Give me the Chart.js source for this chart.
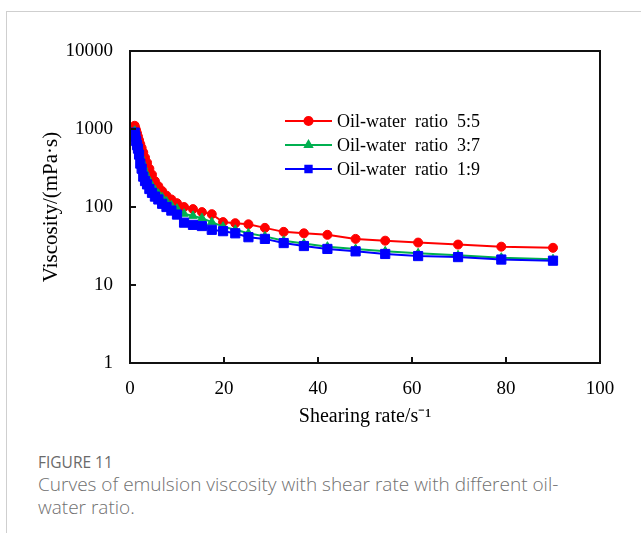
<!DOCTYPE html>
<html>
<head>
<meta charset="utf-8">
<script src="https://cdn.jsdelivr.net/npm/chart.js@4"></script>
<style>
  html, body { margin: 0; padding: 0; background: #fff; }
  body { width: 641px; height: 533px; position: relative; overflow: hidden; }
  .card { position: absolute; left: 6px; top: 11px; right: -2px; bottom: -2px; border-top: 1px solid #cfcfcf; border-left: 1px solid #cfcfcf; }
  .chart-box { position: absolute; left: 0; top: 0; width: 641px; height: 440px; }
  .fig-label { position: absolute; left: 38px; top: 451px; font-family: "Open Sans", sans-serif; font-size: 15.5px; color: #6a6a6a; }
  .fig-caption { position: absolute; left: 38px; top: 473px; width: 540px; font-family: "Open Sans", sans-serif; font-size: 19px; line-height: 23px; color: #707070; font-weight: 300; }
</style>
</head>
<body>
<div class="card"></div>
<div class="chart-box"><canvas id="viscChart"></canvas></div>
<div class="fig-label">FIGURE 11</div>
<div class="fig-caption">Curves of emulsion viscosity with shear rate with different oil-water ratio.</div>
<script>
// shear rate points (s^-1)
const shearRates = [1.0, 1.16, 1.32, 1.5, 1.7, 1.93, 2.19, 2.48, 2.82, 3.2, 3.63, 4.12, 4.68, 5.3, 6.03, 6.84, 7.76, 8.8, 10.0,
  11.5, 13.4, 15.3, 17.4, 19.8, 22.4, 25.2, 28.7, 32.7, 37, 42, 48, 54.3, 61.3, 69.8, 79, 90];

// viscosity (mPa·s)
const ratio55 = [1100, 1020, 950, 880, 800, 720, 640, 570, 500, 430, 370, 310, 260, 215, 185, 160, 140, 125, 112,
  100, 94, 86, 81, 64, 62, 60, 54, 48, 46, 44, 39, 37, 35, 33, 31, 30];
const ratio37 = [950, 860, 770, 690, 620, 540, 460, 390, 330, 285, 245, 212, 185, 165, 148, 133, 118, 105, 95,
  82, 77, 72, 64, 56, 51, 46, 42, 37, 34, 31, 29, 27, 25.5, 24, 22.4, 21.4];
const ratio19 = [900, 800, 700, 620, 560, 470, 360, 310, 245, 215, 195, 170, 152, 136, 125, 110, 100, 90, 80,
  63, 59, 57, 51, 49, 46, 41, 39, 34.5, 31.6, 29, 27, 25, 23.5, 22.8, 21.2, 20.5];

const seriesNames = ['Oil-water  ratio  5:5', 'Oil-water  ratio  3:7', 'Oil-water  ratio  1:9'];
const seriesColors = ['#ff0000', '#00b050', '#0000ff'];
const seriesMarkers = ['circle', 'triangle', 'rect'];

const xTicks = [0, 20, 40, 60, 80, 100];
const yTicks = [1, 10, 100, 1000, 10000];

const serif = "'Liberation Serif', 'Times New Roman', serif";

function toPoints(values) {
  return values.map((v, i) => ({ x: shearRates[i], y: v }));
}

// black box round the plot plus small inward ticks
const frameAndTicks = {
  id: 'frameAndTicks',
  afterDatasetsDraw(chart) {
    const { ctx, chartArea: a, scales } = chart;
    ctx.save();
    ctx.strokeStyle = '#111';
    ctx.lineWidth = 2;
    ctx.strokeRect(a.left, a.top, a.right - a.left, a.bottom - a.top);
    ctx.beginPath();
    xTicks.slice(1, -1).forEach(v => {
      const px = Math.round(scales.x.getPixelForValue(v));
      ctx.moveTo(px, a.bottom);
      ctx.lineTo(px, a.bottom - 6);
    });
    yTicks.slice(1, -1).forEach(v => {
      const py = Math.round(scales.y.getPixelForValue(v));
      ctx.moveTo(a.left, py);
      ctx.lineTo(a.left + 6, py);
    });
    ctx.stroke();
    ctx.restore();
  }
};

// legend sits inside the plot, upper right
const insideLegend = {
  id: 'insideLegend',
  afterDraw(chart) {
    const { ctx } = chart;
    const x0 = 285, x1 = 332, textX = 337;
    const rows = [121, 145, 169];
    ctx.save();
    ctx.font = '18px ' + serif;
    ctx.textBaseline = 'middle';
    seriesNames.forEach((name, i) => {
      const y = rows[i];
      ctx.strokeStyle = seriesColors[i];
      ctx.fillStyle = seriesColors[i];
      ctx.lineWidth = 2;
      ctx.beginPath();
      ctx.moveTo(x0, y);
      ctx.lineTo(x1, y);
      ctx.stroke();
      Chart.helpers.drawPoint(ctx, { pointStyle: seriesMarkers[i], radius: i === 2 ? 4.5 : 4, borderWidth: 1 }, (x0 + x1) / 2, y);
      ctx.fill();
      ctx.fillStyle = '#000';
      ctx.fillText(name, textX, y + 1);
    });
    ctx.restore();
  }
};

const datasets = [ratio55, ratio37, ratio19].map((vals, i) => ({
  label: seriesNames[i],
  data: toPoints(vals),
  borderColor: seriesColors[i],
  backgroundColor: seriesColors[i],
  borderWidth: 2,
  pointStyle: seriesMarkers[i],
  pointRadius: i === 2 ? 6.5 : (i === 1 ? 5 : 4.5),
  pointBorderWidth: 1,
  tension: 0,
  order: 3 - i
}));

new Chart(document.getElementById('viscChart'), {
  type: 'line',
  data: { datasets },
  options: {
    responsive: true,
    maintainAspectRatio: false,
    animation: false,
    events: [],
    layout: { padding: { left: 0, right: 41, top: 51, bottom: 0 } },
    plugins: { legend: { display: false }, tooltip: { enabled: false } },
    scales: {
      x: {
        type: 'linear',
        min: 0,
        max: 100,
        afterBuildTicks: s => { s.ticks = xTicks.map(v => ({ value: v })); },
        afterFit: s => { s.height = 77; },
        grid: { display: false, drawTicks: false },
        border: { display: false },
        ticks: { color: '#000', font: { family: serif, size: 19 }, padding: 15, maxRotation: 0 },
        title: { display: true, text: 'Shearing rate/s⁻¹', color: '#000', font: { family: serif, size: 20 }, padding: { top: 0, bottom: 11 } }
      },
      y: {
        type: 'logarithmic',
        min: 1,
        max: 10000,
        afterBuildTicks: s => { s.ticks = yTicks.map(v => ({ value: v })); },
        afterFit: s => { s.width = 130; },
        grid: { display: false, drawTicks: false },
        border: { display: false },
        ticks: { color: '#000', font: { family: serif, size: 19 }, padding: 17, callback: v => String(v) },
        title: { display: true, text: 'Viscosity/(mPa·s)', color: '#000', font: { family: serif, size: 21 }, padding: { top: 39, bottom: 0 } }
      }
    }
  },
  plugins: [frameAndTicks, insideLegend]
});
</script>
</body>
</html>
